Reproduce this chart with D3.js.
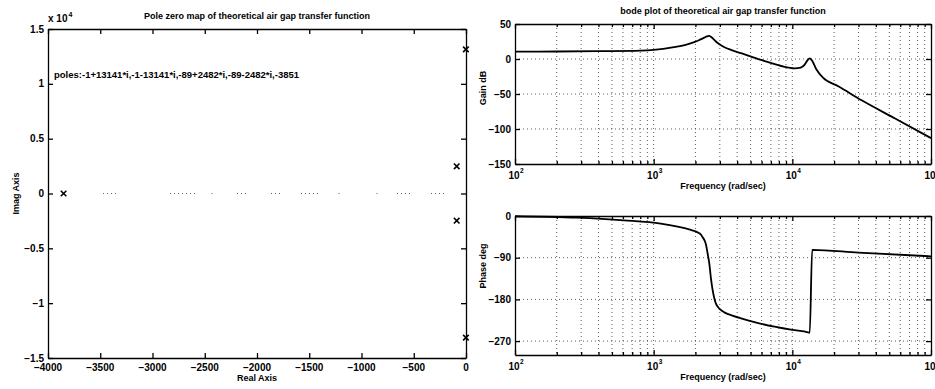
<!DOCTYPE html>
<html>
<head>
<meta charset="utf-8">
<script src="https://cdn.jsdelivr.net/npm/d3@7"></script>
<style>
body { margin: 0; background: #fff; }
svg text { font-family: "Liberation Sans", Arial, sans-serif; font-weight: bold; fill: #000; }
.domain, .tick line { stroke: #000; stroke-width: 1.3; }
.grid { stroke: #333; stroke-width: 0.8; stroke-dasharray: 1 3; }
</style>
</head>
<body>
<svg id="drawing_region"></svg>
<script>
// ---- pole zero map ----
const poleRe = [-1, -1, -89, -89, -3851];
const poleIm = [13141, -13141, 2482, -2482, 0];
// the dotted real axis only survives in pieces on the scan
const realAxisDots = [[-3473, -3340], [-2833, -2574], [-2435, -2425], [-2191, -2096], [-1866, -1780],
                      [-1579, -1407], [-1220, -1210], [-857, -847], [-660, -526], [-335, -201]];
const reTicks = [-4000, -3500, -3000, -2500, -2000, -1500, -1000, -500, 0];
const imTicks = [-15000, -10000, -5000, 0, 5000, 10000, 15000];
const poleNote = 'poles:-1+13141*i,-1-13141*i,-89+2482*i,-89-2482*i,-3851';

// ---- bode plot ----
const gainFreq = [100, 200, 400, 805, 1000, 1402, 1700, 1960, 2100, 2316, 2420, 2500, 2600, 2700, 2850, 3060, 3300,
                  3614, 4270, 5960, 8310, 10400, 11500, 12280, 12850, 13350, 13900, 14930, 16700, 21440, 31620, 55100, 100000];
const gainDb   = [10.4, 10.7, 11.2, 12, 13, 17, 20.3, 24, 26.5, 30.5, 32.3, 33, 31.5, 28.5, 24, 19.5, 16,
                  13, 8.3, -1.4, -10, -13.3, -12.3, -8, -2, 1, -2.5, -15, -27, -39, -59, -85, -113];

const phaseFreq = [100, 280, 610, 1125, 1855, 2000, 2100, 2190, 2255, 2320, 2385, 2449, 2520, 2590, 2663, 2740,
                   2813, 2900, 3000, 3234, 3700, 4270, 5500, 7440, 10000, 12990, 13350, 13900, 29900, 100000];
const phaseDeg  = [-0.5, -3.5, -9.3, -16.5, -30, -33, -36, -40, -46, -52, -62, -81, -103, -135, -160, -178,
                   -189, -196, -201, -208, -215, -221, -230, -239, -246, -251, -252, -73, -79, -87];

const gainTicks = [-150, -100, -50, 0, 50];
const phaseTicks = [-270, -180, -90, 0];
const decades = [100, 1000, 10000, 100000];
const decadeExp = ['2', '3', '4', '5'];
const minorSteps = [2, 3, 4, 5, 6, 7, 8, 9];

const svg = d3.select('#drawing_region')
    .attr('width', 935)
    .attr('height', 389);

function inwardAxes(g, x, y, w, h, xt, yt, len) {
    g.append('g').attr('transform', `translate(0,${h})`)
        .call(d3.axisBottom(x).tickValues(xt).tickSize(-len).tickSizeOuter(0).tickFormat(''));
    g.append('g')
        .call(d3.axisTop(x).tickValues(xt).tickSize(-len).tickSizeOuter(0).tickFormat(''));
    g.append('g')
        .call(d3.axisLeft(y).tickValues(yt).tickSize(-len).tickSizeOuter(0).tickFormat(''));
    g.append('g').attr('transform', `translate(${w},0)`)
        .call(d3.axisRight(y).tickValues(yt).tickSize(-len).tickSizeOuter(0).tickFormat(''));
}

function poleMap() {
    const m = {left: 48, right: 466, top: 29, bottom: 358};
    const w = m.right - m.left, h = m.bottom - m.top;
    const g = svg.append('g').attr('transform', `translate(${m.left},${m.top})`);

    const x = d3.scaleLinear().domain([-4000, 0]).range([0, w]);
    const y = d3.scaleLinear().domain([-15000, 15000]).range([h, 0]);

    g.append('g').selectAll('line')
        .data(realAxisDots)
        .join('line')
        .attr('class', 'grid')
        .attr('x1', d => x(d[0]))
        .attr('x2', d => x(d[1]))
        .attr('y1', y(0))
        .attr('y2', y(0));

    inwardAxes(g, x, y, w, h, reTicks, imTicks, 5);

    const fmt = d3.format('');
    g.append('g').selectAll('text')
        .data(reTicks)
        .join('text')
        .attr('x', d => x(d))
        .attr('y', h + 13)
        .attr('text-anchor', 'middle')
        .attr('font-size', 10)
        .text(d => fmt(d));

    g.append('g').selectAll('text')
        .data(imTicks)
        .join('text')
        .attr('x', -4)
        .attr('y', d => y(d) + 3.5)
        .attr('text-anchor', 'end')
        .attr('font-size', 10)
        .text(d => fmt(d / 1e4));

    // x 10^4 multiplier
    const mult = g.append('text').attr('x', 0).attr('y', -7).attr('font-size', 10);
    mult.append('tspan').text('x 10');
    mult.append('tspan').attr('dy', -5).attr('dx', 1).attr('font-size', 7).text('4');

    g.append('g').selectAll('path')
        .data(poleRe.map((r, i) => [r, poleIm[i]]))
        .join('path')
        .attr('transform', d => `translate(${x(d[0])},${y(d[1])})`)
        .attr('d', 'M-2.8,-2.8L2.8,2.8M-2.8,2.8L2.8,-2.8')
        .attr('stroke', '#000')
        .attr('stroke-width', 1.6);

    g.append('text')
        .attr('x', 6)
        .attr('y', 49)
        .attr('font-size', 9.5)
        .text(poleNote);

    svg.append('text')
        .attr('text-anchor', 'middle')
        .attr('x', (m.left + m.right) / 2)
        .attr('y', 19)
        .attr('font-size', 9)
        .text('Pole zero map of theoretical air gap transfer function');

    svg.append('text')
        .attr('text-anchor', 'middle')
        .attr('x', (m.left + m.right) / 2)
        .attr('y', 381)
        .attr('font-size', 9)
        .text('Real Axis');

    svg.append('text')
        .attr('text-anchor', 'middle')
        .attr('transform', `translate(19,${(m.top + m.bottom) / 2}) rotate(-90)`)
        .attr('font-size', 9)
        .text('Imag Axis');
}

function bodePanel(cfg) {
    const w = cfg.right - cfg.left, h = cfg.bottom - cfg.top;
    const g = svg.append('g').attr('transform', `translate(${cfg.left},${cfg.top})`);

    const x = d3.scaleLog().domain([100, 100000]).range([0, w]);
    const y = d3.scaleLinear().domain(cfg.ydomain).range([h, 0]);

    const minors = [];
    decades.slice(0, 3).forEach(d => minorSteps.forEach(s => minors.push(d * s)));

    // dotted grid
    g.append('g').selectAll('line')
        .data(minors.concat(decades.slice(1, 3)))
        .join('line')
        .attr('class', 'grid')
        .attr('x1', d => x(d)).attr('x2', d => x(d))
        .attr('y1', 0).attr('y2', h);
    g.append('g').selectAll('line')
        .data(cfg.yticks.filter(d => y(d) > 1 && y(d) < h - 1))
        .join('line')
        .attr('class', 'grid')
        .attr('x1', 0).attr('x2', w)
        .attr('y1', d => y(d)).attr('y2', d => y(d));

    inwardAxes(g, x, y, w, h, decades, cfg.yticks, 5);
    g.append('g').attr('transform', `translate(0,${h})`)
        .call(d3.axisBottom(x).tickValues(minors).tickSize(-3).tickFormat(''))
        .select('.domain').remove();
    g.append('g')
        .call(d3.axisTop(x).tickValues(minors).tickSize(-3).tickFormat(''))
        .select('.domain').remove();

    g.append('g').selectAll('text')
        .data(cfg.yticks)
        .join('text')
        .attr('x', -4)
        .attr('y', d => y(d) + 3.5)
        .attr('text-anchor', 'end')
        .attr('font-size', 10)
        .text(d => d3.format('')(d));

    const xl = g.append('g').selectAll('g')
        .data(decades)
        .join('g')
        .attr('transform', d => `translate(${x(d)},${h + 15})`);
    xl.append('text')
        .attr('x', -1)
        .attr('text-anchor', 'middle')
        .attr('font-size', 10)
        .text('10');
    xl.append('text')
        .attr('x', 5)
        .attr('y', -6)
        .attr('font-size', 6.5)
        .text((d, i) => decadeExp[i]);

    const line = d3.line()
        .x((d, i) => x(cfg.freq[i]))
        .y(d => y(d))
        .curve(d3.curveMonotoneX);
    g.append('path')
        .datum(cfg.values)
        .attr('d', line)
        .attr('fill', 'none')
        .attr('stroke', '#000')
        .attr('stroke-width', 1.8);

    svg.append('text')
        .attr('text-anchor', 'middle')
        .attr('x', (cfg.left + cfg.right) / 2)
        .attr('y', cfg.bottom + 25)
        .attr('font-size', 9)
        .text('Frequency (rad/sec)');

    svg.append('text')
        .attr('text-anchor', 'middle')
        .attr('transform', `translate(486,${cfg.labelY}) rotate(-90)`)
        .attr('font-size', 9)
        .text(cfg.ylabel);
}

poleMap();

bodePanel({left: 515, right: 931, top: 24, bottom: 164, ydomain: [-150, 50], yticks: gainTicks,
           freq: gainFreq, values: gainDb, ylabel: 'Gain dB', labelY: 88});
bodePanel({left: 515, right: 931, top: 216, bottom: 355, ydomain: [-300, 0], yticks: phaseTicks,
           freq: phaseFreq, values: phaseDeg, ylabel: 'Phase deg', labelY: 266});

svg.append('text')
    .attr('text-anchor', 'middle')
    .attr('x', 723)
    .attr('y', 14)
    .attr('font-size', 9)
    .text('bode plot of theoretical air gap transfer function');
</script>
</body>
</html>
